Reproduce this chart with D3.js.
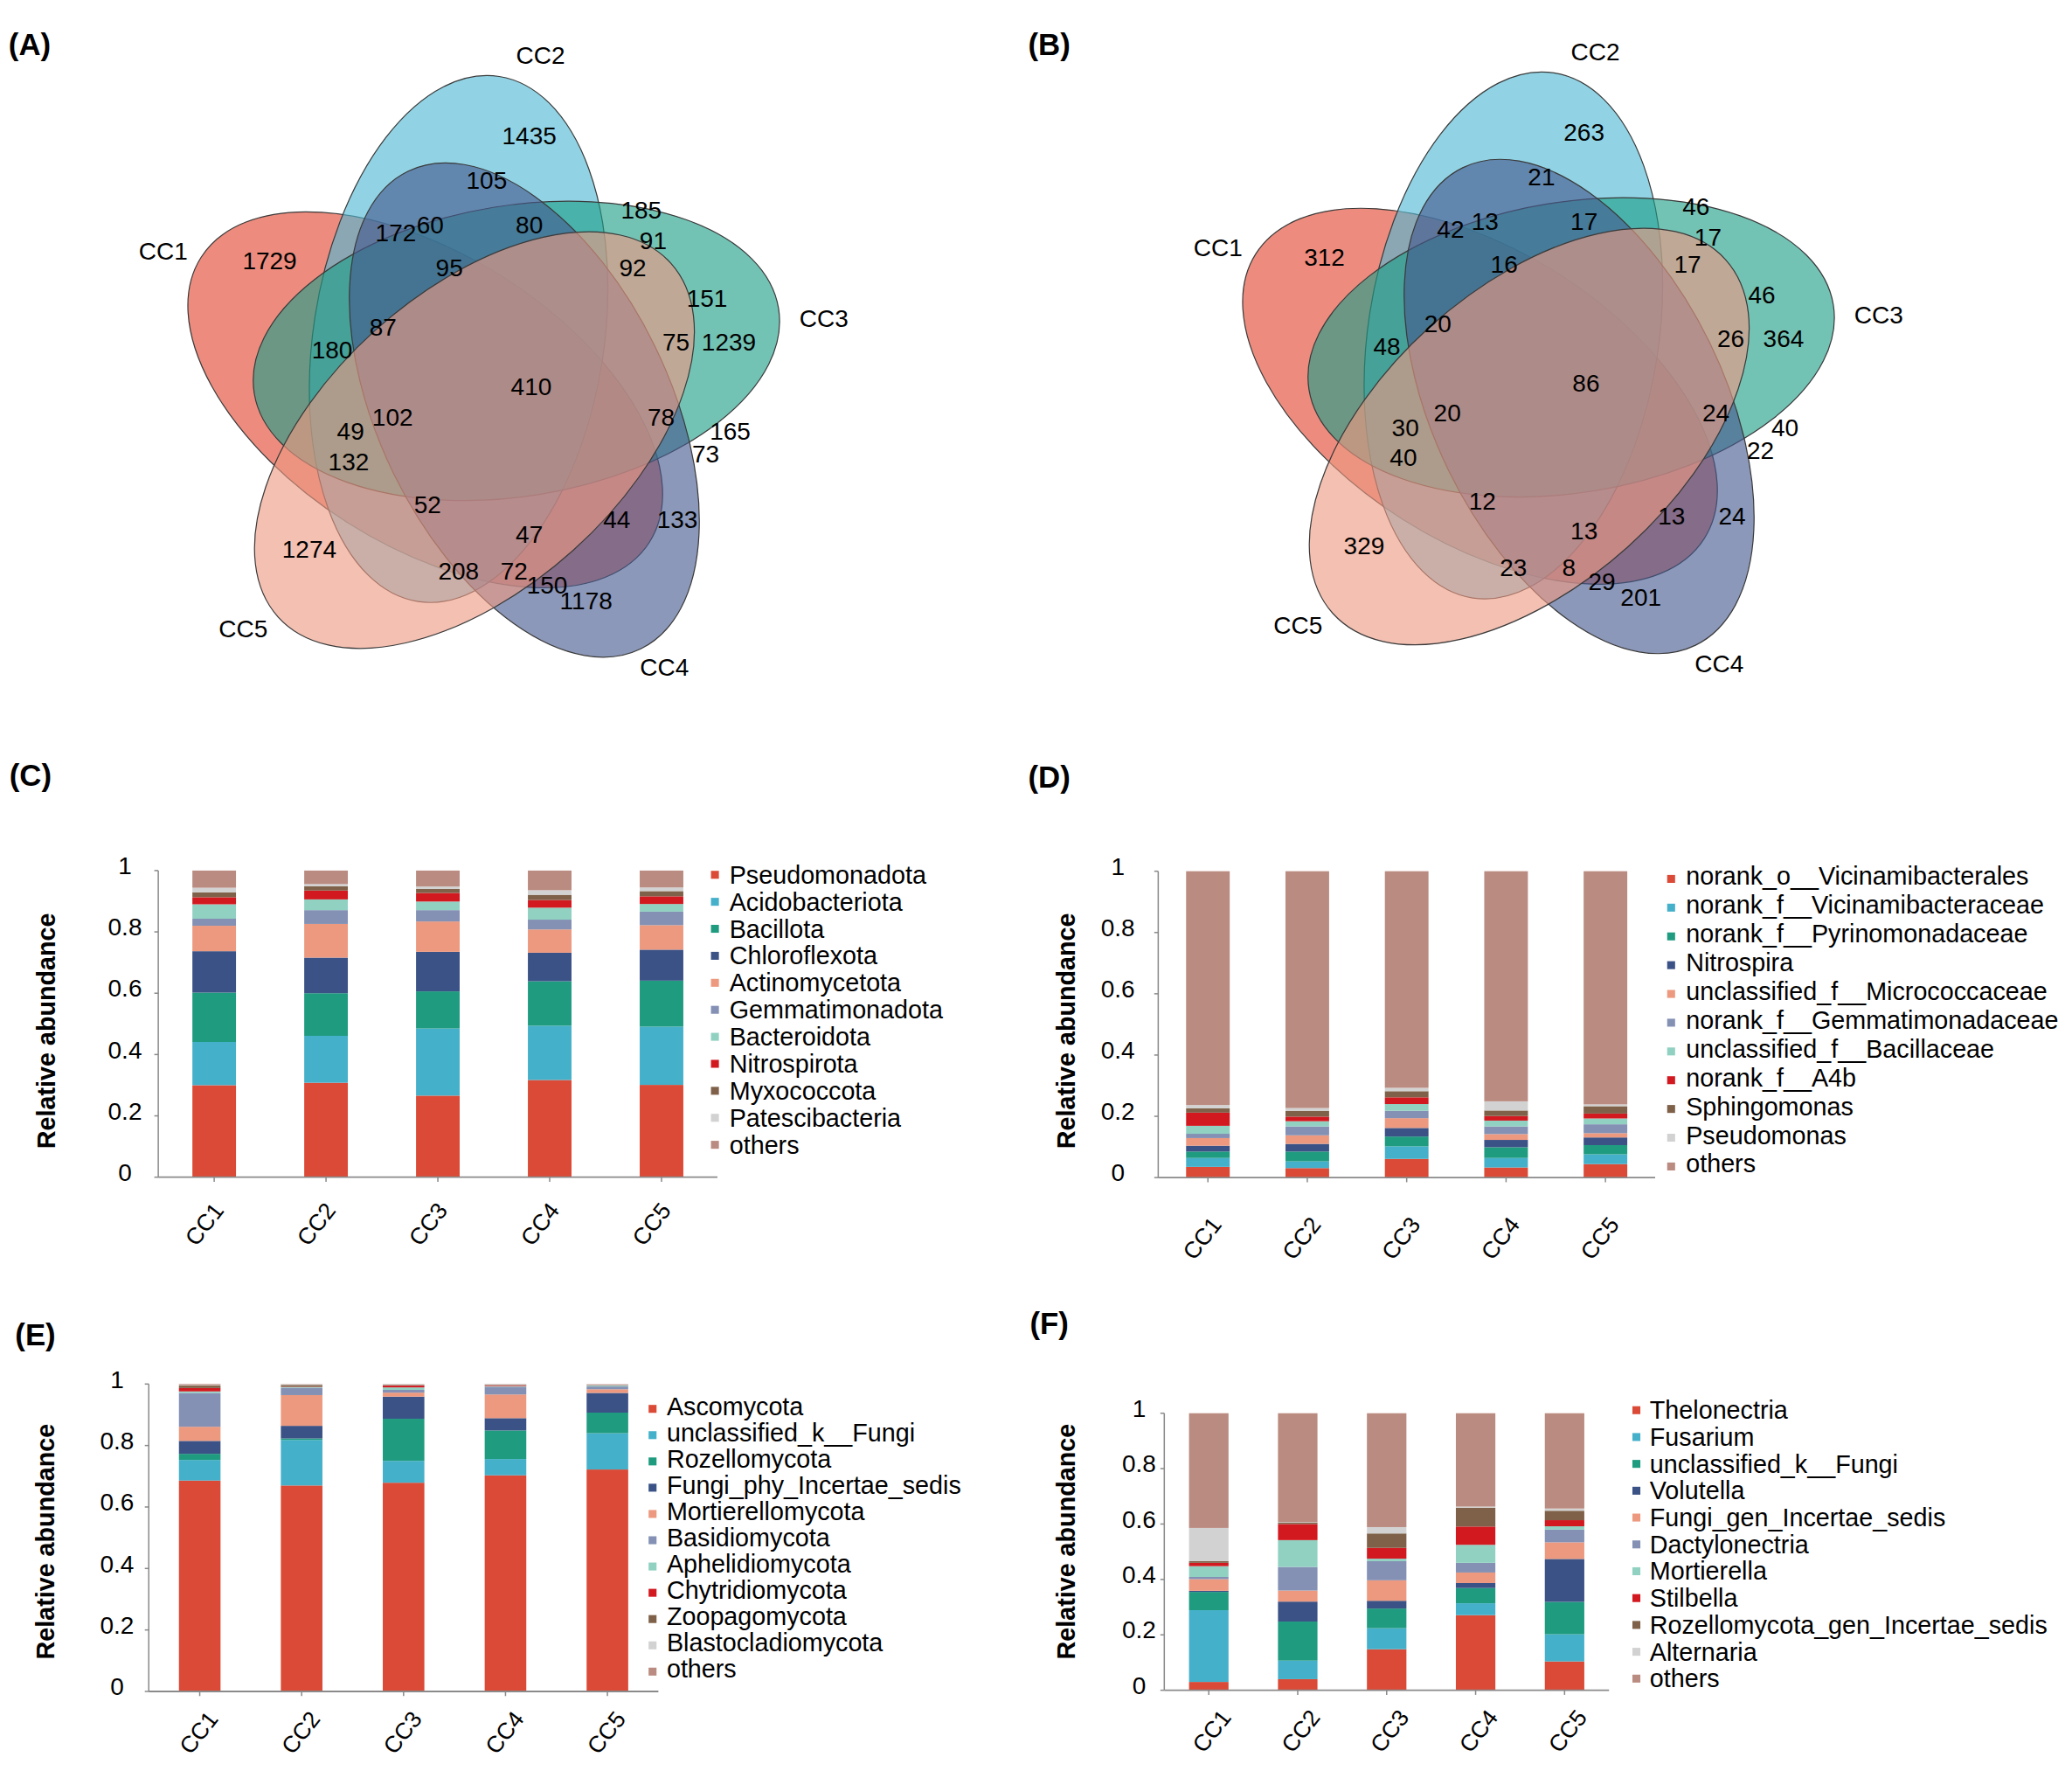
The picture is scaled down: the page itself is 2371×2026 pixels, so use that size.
<!DOCTYPE html>
<html>
<head>
<meta charset="utf-8">
<script src="https://cdn.jsdelivr.net/npm/d3@7"></script>
<style>
  body { margin: 0; background: #fff; }
  text { font-family: "Liberation Sans", Arial, sans-serif; fill: #000; }
</style>
</head>
<body>
<svg id="fig"></svg>
<script>
// ---------------- data ----------------
var samples = ["CC1", "CC2", "CC3", "CC4", "CC5"];

// Venn region counts, listed in the order of the label layout below
var vennCountsA = [1435, 105, 185, 172, 60, 80, 91, 1729, 95, 92, 151, 87, 180, 75, 1239, 410,
                   102, 78, 49, 165, 132, 73, 52, 44, 133, 47, 1274, 208, 72, 150, 1178];
var vennCountsB = [263, 21, 46, 42, 13, 17, 17, 312, 16, 17, 46, 20, 48, 26, 364, 86,
                   20, 24, 30, 40, 40, 22, 12, 13, 24, 13, 329, 23, 8, 29, 201];

var bacPhyla = ["Pseudomonadota", "Acidobacteriota", "Bacillota", "Chloroflexota", "Actinomycetota",
                "Gemmatimonadota", "Bacteroidota", "Nitrospirota", "Myxococcota", "Patescibacteria", "others"];
var bacPhylaValues = [
  [0.300, 0.141, 0.161, 0.135, 0.083, 0.023, 0.047, 0.023, 0.016, 0.015, 0.056],
  [0.308, 0.153, 0.139, 0.116, 0.110, 0.045, 0.035, 0.029, 0.014, 0.007, 0.044],
  [0.266, 0.219, 0.121, 0.129, 0.099, 0.037, 0.028, 0.028, 0.013, 0.008, 0.052],
  [0.317, 0.177, 0.145, 0.093, 0.076, 0.032, 0.039, 0.025, 0.017, 0.015, 0.064],
  [0.301, 0.190, 0.150, 0.101, 0.080, 0.044, 0.025, 0.025, 0.017, 0.012, 0.055]
];

var bacGenera = ["norank_o__Vicinamibacterales", "norank_f__Vicinamibacteraceae", "norank_f__Pyrinomonadaceae",
                 "Nitrospira", "unclassified_f__Micrococcaceae", "norank_f__Gemmatimonadaceae",
                 "unclassified_f__Bacillaceae", "norank_f__A4b", "Sphingomonas", "Pseudomonas", "others"];
var bacGeneraValues = [
  [0.035, 0.029, 0.021, 0.019, 0.025, 0.014, 0.026, 0.043, 0.014, 0.011, 0.763],
  [0.031, 0.022, 0.032, 0.025, 0.028, 0.029, 0.017, 0.015, 0.019, 0.009, 0.773],
  [0.061, 0.041, 0.032, 0.028, 0.032, 0.024, 0.022, 0.022, 0.020, 0.011, 0.707],
  [0.033, 0.031, 0.035, 0.024, 0.019, 0.025, 0.019, 0.015, 0.018, 0.030, 0.751],
  [0.044, 0.032, 0.030, 0.025, 0.014, 0.029, 0.019, 0.016, 0.024, 0.006, 0.761]
];

var fungPhyla = ["Ascomycota", "unclassified_k__Fungi", "Rozellomycota", "Fungi_phy_Incertae_sedis",
                 "Mortierellomycota", "Basidiomycota", "Aphelidiomycota", "Chytridiomycota",
                 "Zoopagomycota", "Blastocladiomycota", "others"];
var fungPhylaValues = [
  [0.686, 0.067, 0.020, 0.042, 0.046, 0.110, 0.005, 0.011, 0.008, 0.002, 0.003],
  [0.670, 0.148, 0.005, 0.041, 0.100, 0.024, 0.002, 0.001, 0.006, 0.002, 0.001],
  [0.679, 0.071, 0.137, 0.072, 0.013, 0.009, 0.008, 0.006, 0.002, 0.002, 0.001],
  [0.703, 0.053, 0.093, 0.040, 0.077, 0.025, 0.002, 0.002, 0.002, 0.002, 0.001],
  [0.722, 0.118, 0.067, 0.064, 0.012, 0.009, 0.003, 0.001, 0.001, 0.002, 0.001]
];

var fungGenera = ["Thelonectria", "Fusarium", "unclassified_k__Fungi", "Volutella", "Fungi_gen_Incertae_sedis",
                  "Dactylonectria", "Mortierella", "Stilbella", "Rozellomycota_gen_Incertae_sedis",
                  "Alternaria", "others"];
var fungGeneraValues = [
  [0.030, 0.259, 0.066, 0.004, 0.042, 0.008, 0.039, 0.012, 0.006, 0.120, 0.414],
  [0.040, 0.067, 0.141, 0.072, 0.040, 0.085, 0.097, 0.058, 0.005, 0.002, 0.393],
  [0.148, 0.076, 0.071, 0.028, 0.074, 0.069, 0.009, 0.039, 0.052, 0.023, 0.411],
  [0.271, 0.043, 0.055, 0.018, 0.038, 0.035, 0.065, 0.066, 0.068, 0.004, 0.337],
  [0.104, 0.098, 0.117, 0.155, 0.060, 0.046, 0.012, 0.022, 0.034, 0.008, 0.344]
];

var yTicks = [0, 0.2, 0.4, 0.6, 0.8, 1];
var yTickLabels = ["0", "0.2", "0.4", "0.6", "0.8", "1"];

// ---------------- styles / layout ----------------
var W = 1568, H = 1340;
var vennColors = ["#E2452E", "#4DB8D3", "#1D9E87", "#45598E", "#EE9A82"];
var stackColors = ["#DB4A36", "#45B0CA", "#1F9B80", "#3B5286", "#EC997F", "#8491B4",
                   "#91D1C2", "#D31920", "#7E6148", "#D2D2D2", "#BA8B80"];

// Venn layout in unit coordinates around the diagram centre (one unit = 250 px)
var vennLayout = {
  centre: [362, 293],
  unit: 250,
  shiftB: [798.3, -2.7],
  // ellipse: centre offset, semi-axes, rotation (deg)
  ellipses: [
    { c: [-0.161, 0.038], rx: 0.804, ry: 0.440, rot: 212.4 },
    { c: [-0.060, -0.146], rx: 0.804, ry: 0.440, rot: 278.8 },
    { c: [0.115, -0.110], rx: 0.804, ry: 0.440, rot: 350.8 },
    { c: [0.139, 0.069], rx: 0.804, ry: 0.440, rot: 64.0 },
    { c: [-0.012, 0.160], rx: 0.800, ry: 0.448, rot: 138.0 }
  ],
  setLabels: [[-0.954, -0.412], [0.188, -1.004], [1.046, -0.207], [0.563, 0.848], [-0.712, 0.731]],
  countLabels: [
    [0.154, -0.760], [0.025, -0.626], [0.493, -0.535], [-0.250, -0.468], [-0.146, -0.490],
    [0.154, -0.490], [0.529, -0.443], [-0.632, -0.382], [-0.088, -0.360], [0.467, -0.360],
    [0.692, -0.268], [-0.289, -0.180], [-0.443, -0.112], [0.598, -0.136], [0.758, -0.136],
    [0.160, 0.000], [-0.260, 0.090], [0.553, 0.090], [-0.387, 0.134], [0.762, 0.134],
    [-0.393, 0.225], [0.688, 0.202], [-0.154, 0.356], [0.419, 0.400], [0.602, 0.400],
    [0.154, 0.445], [-0.512, 0.491], [-0.060, 0.556], [0.108, 0.556], [0.208, 0.599],
    [0.326, 0.647]
  ]
};

var svg = d3.select("#fig")
    .attr("width", 2371)
    .attr("height", 2026)
    .attr("viewBox", "0 0 " + W + " " + H);

svg.append("rect").attr("width", W).attr("height", H).attr("fill", "#fff");

function panelLetter(txt, x, y) {
  svg.append("text")
      .attr("x", x).attr("y", y)
      .attr("text-anchor", "middle")
      .attr("dominant-baseline", "central")
      .style("font-size", "23px")
      .style("font-weight", "bold")
      .text(txt);
}

function drawVenn(counts, shift) {
  var cx = vennLayout.centre[0] + shift[0],
      cy = vennLayout.centre[1] + shift[1],
      u = vennLayout.unit;
  var vx = d3.scaleLinear().domain([-1, 1]).range([cx - u, cx + u]);
  var vy = d3.scaleLinear().domain([-1, 1]).range([cy - u, cy + u]);
  var g = svg.append("g");

  g.selectAll("ellipse")
    .data(vennLayout.ellipses)
    .enter().append("ellipse")
      .attr("cx", function(e) { return vx(e.c[0]); })
      .attr("cy", function(e) { return vy(e.c[1]); })
      .attr("rx", function(e) { return vx(e.rx) - vx(0); })
      .attr("ry", function(e) { return vy(e.ry) - vy(0); })
      .attr("transform", function(e) {
        return "rotate(" + e.rot + "," + vx(e.c[0]) + "," + vy(e.c[1]) + ")";
      })
      .attr("fill", function(e, i) { return vennColors[i]; })
      .attr("fill-opacity", 0.62)
      .attr("stroke", "#3a3a3a")
      .attr("stroke-width", 0.8);

  g.selectAll("text.set")
    .data(samples)
    .enter().append("text")
      .attr("class", "set")
      .attr("x", function(d, i) { return vx(vennLayout.setLabels[i][0]); })
      .attr("y", function(d, i) { return vy(vennLayout.setLabels[i][1]); })
      .attr("text-anchor", "middle")
      .attr("dominant-baseline", "central")
      .style("font-size", "18.5px")
      .text(function(d) { return d; });

  g.selectAll("text.count")
    .data(counts)
    .enter().append("text")
      .attr("class", "count")
      .attr("x", function(d, i) { return vx(vennLayout.countLabels[i][0]); })
      .attr("y", function(d, i) { return vy(vennLayout.countLabels[i][1]); })
      .attr("text-anchor", "middle")
      .attr("dominant-baseline", "central")
      .style("font-size", "18.5px")
      .text(function(d) { return d; });
}

panelLetter("(A)", 22.4, 33.7);
panelLetter("(B)", 794, 33.7);
drawVenn(vennCountsA, [0, 0]);
drawVenn(vennCountsB, vennLayout.shiftB);

// ---------------- stacked bar panels ----------------
var panels = [
  { letter: "(C)", lx: 23, ly: 586.5, names: bacPhyla, values: bacPhylaValues,
    x0: 119.7, x1: 542.9, yb: 890.7, yt: 658.7, bar: 0.39, tickX: 94.5, titleX: 34.8, titleY: 780,
    legX: 541, legTextX: 552, legY: 661.9, legStep: 20.43, legSq: 0, lblDx: -7.4, lblDy: 35.6 },
  { letter: "(D)", lx: 794, ly: 587.8, names: bacGenera, values: bacGeneraValues,
    x0: 876.5, x1: 1252.6, yb: 891, yt: 659.2, bar: 0.439, tickX: 846, titleX: 806.7, titleY: 780,
    legX: 1264.7, legTextX: 1275.9, legY: 663, legStep: 21.76, legSq: 2, lblDx: -4.3, lblDy: 46 },
  { letter: "(E)", lx: 26.7, ly: 1010, names: fungPhyla, values: fungPhylaValues,
    x0: 112.5, x1: 498.2, yb: 1279.8, yt: 1047.2, bar: 0.408, tickX: 88.5, titleX: 34, titleY: 1166.5,
    legX: 493.8, legTextX: 504.5, legY: 1064, legStep: 19.88, legSq: 2, lblDx: -0.7, lblDy: 31.2 },
  { letter: "(F)", lx: 794, ly: 1001.5, names: fungGenera, values: fungGeneraValues,
    x0: 881.1, x1: 1217.7, yb: 1278.9, yt: 1069.3, bar: 0.444, tickX: 862, titleX: 806.7, titleY: 1166.5,
    legX: 1238.4, legTextX: 1248.5, legY: 1067, legStep: 20.31, legSq: 0, lblDx: 2.3, lblDy: 31 }
];

function drawStack(p) {
  panelLetter(p.letter, p.lx, p.ly);

  var x = d3.scaleBand()
      .domain(samples)
      .range([p.x0, p.x1])
      .paddingInner(1 - p.bar)
      .paddingOuter((1 - p.bar) / 2);
  var y = d3.scaleLinear().domain([0, 1]).range([p.yb, p.yt]);

  var rows = samples.map(function(s, i) {
    var r = { sample: s };
    p.names.forEach(function(n, j) { r[n] = p.values[i][j]; });
    return r;
  });
  var series = d3.stack().keys(p.names)(rows);

  var g = svg.append("g");
  g.selectAll("g.layer")
    .data(series)
    .enter().append("g")
      .attr("fill", function(d, i) { return stackColors[i]; })
    .selectAll("rect")
    .data(function(d) { return d; })
    .enter().append("rect")
      .attr("x", function(d) { return x(d.data.sample); })
      .attr("width", x.bandwidth())
      .attr("y", function(d) { return y(d[1]); })
      .attr("height", function(d) { return y(d[0]) - y(d[1]); });

  // axes
  var axisColor = "#8a8a8a";
  g.append("line")
      .attr("x1", p.x0).attr("x2", p.x0)
      .attr("y1", y(0)).attr("y2", y(1))
      .attr("stroke", axisColor).attr("stroke-width", 1);
  g.append("line")
      .attr("x1", p.x0).attr("x2", p.x1)
      .attr("y1", y(0)).attr("y2", y(0))
      .attr("stroke", axisColor).attr("stroke-width", 1.2);

  g.selectAll("line.ytick")
    .data(yTicks)
    .enter().append("line")
      .attr("x1", p.x0 - 3).attr("x2", p.x0)
      .attr("y1", function(d) { return y(d); })
      .attr("y2", function(d) { return y(d); })
      .attr("stroke", axisColor);

  g.selectAll("text.ytick")
    .data(yTicks)
    .enter().append("text")
      .attr("x", p.tickX)
      .attr("y", function(d) { return y(d) - 3.5; })
      .attr("text-anchor", "middle")
      .attr("dominant-baseline", "central")
      .style("font-size", "18.5px")
      .text(function(d, i) { return yTickLabels[i]; });

  g.selectAll("line.xtick")
    .data(samples)
    .enter().append("line")
      .attr("x1", function(d) { return x(d) + x.bandwidth() / 2; })
      .attr("x2", function(d) { return x(d) + x.bandwidth() / 2; })
      .attr("y1", y(0)).attr("y2", y(0) + 3.5)
      .attr("stroke", axisColor);

  g.selectAll("text.xlab")
    .data(samples)
    .enter().append("text")
      .attr("transform", function(d) {
        var tx = x(d) + x.bandwidth() / 2 + p.lblDx, ty = y(0) + p.lblDy;
        return "translate(" + tx + "," + ty + ") rotate(-52)";
      })
      .attr("text-anchor", "middle")
      .attr("dominant-baseline", "central")
      .style("font-size", "17.5px")
      .text(function(d) { return d; });

  g.append("text")
      .attr("transform", "translate(" + p.titleX + "," + p.titleY + ") rotate(-90)")
      .attr("text-anchor", "middle")
      .attr("dominant-baseline", "central")
      .style("font-size", "19px")
      .style("font-weight", "bold")
      .text("Relative abundance");

  // legend
  var leg = g.selectAll("g.leg")
    .data(p.names)
    .enter().append("g")
      .attr("transform", function(d, i) { return "translate(0," + (p.legY + i * p.legStep) + ")"; });
  leg.append("rect")
      .attr("x", p.legX - 3).attr("y", p.legSq - 3)
      .attr("width", 6).attr("height", 6)
      .attr("fill", function(d, i) { return stackColors[i]; });
  leg.append("text")
      .attr("x", p.legTextX).attr("y", 0)
      .attr("dominant-baseline", "central")
      .style("font-size", "19px")
      .text(function(d) { return d; });
}

panels.forEach(drawStack);
</script>
</body>
</html>
